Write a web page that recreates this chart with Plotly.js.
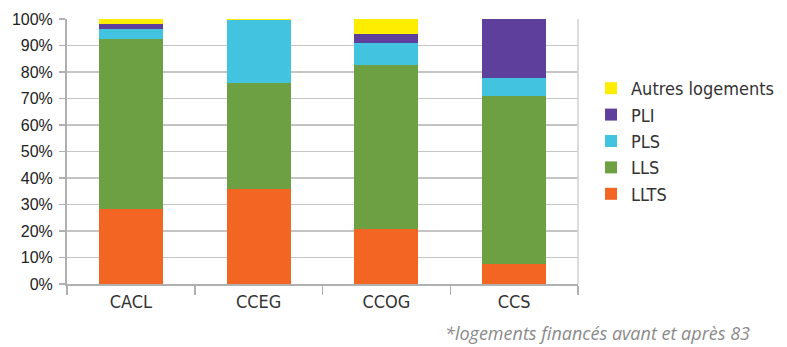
<!DOCTYPE html>
<html><head><meta charset="utf-8">
<script src="https://cdn.plot.ly/plotly-3.0.1.min.js"></script>
<style>html,body{margin:0;padding:0;background:#fff;}#c{width:787px;height:347px;}</style>
</head><body><div id="c"></div>
<script>
const categories = ['CACL', 'CCEG', 'CCOG', 'CCS'];
const seriesNames = ['LLTS', 'LLS', 'PLS', 'PLI', 'Autres logements'];
const LLTS = [28.2, 36.0, 20.6, 7.7];
const LLS = [64.4, 40.0, 61.9, 63.4];
const PLS = [3.8, 23.5, 8.3, 6.8];
const PLI = [1.9, 0.0, 3.7, 22.1];
const AUTRES = [1.7, 0.5, 5.5, 0.0];
const yTicks = [0, 10, 20, 30, 40, 50, 60, 70, 80, 90, 100];
const yTickLabels = yTicks.map(v => v + '%');
const footnote = '*logements financés avant et après 83';

const colors = ['#F26522', '#6DA042', '#42C4E0', '#5E3F9B', '#FFED00'];
const values = [LLTS, LLS, PLS, PLI, AUTRES];
const narrow = '"DejaVu Sans Condensed", "Liberation Sans Narrow", sans-serif';

const traces = seriesNames.map((n, i) => ({
  type: 'bar', name: n, x: categories, y: values[i],
  marker: {color: colors[i], line: {width: 0}},
  hoverinfo: 'skip'
}));

const layout = {
  width: 787, height: 347,
  margin: {l: 67, r: 209, t: 19, b: 63},
  barmode: 'stack', bargap: 0.5,
  paper_bgcolor: '#fff', plot_bgcolor: '#fff',
  showlegend: true,
  legend: {
    xref: 'container', yref: 'container',
    x: 0.751, xanchor: 'left', y: 0.7983, yanchor: 'top',
    traceorder: 'reversed',
    font: {family: narrow, size: 18, color: '#333'},
    itemwidth: 30, tracegroupgap: 0
  },
  xaxis: {
    type: 'category',
    tickson: 'boundaries', ticks: 'outside', ticklen: 9, tickwidth: 1.5, tickcolor: '#b0b0b0',
    showline: true, linecolor: '#b0b0b0', linewidth: 2,
    tickfont: {family: narrow, size: 18, color: '#333'},
    showgrid: false, zeroline: false
  },
  yaxis: {
    range: [0, 100], tickvals: yTicks, ticktext: yTickLabels,
    ticks: 'outside', ticklen: 6, tickwidth: 1.5, tickcolor: '#b0b0b0',
    ticklabelstandoff: 3,
    showline: true, linecolor: '#b0b0b0', linewidth: 2,
    showgrid: true, gridcolor: '#c4c4c4', gridwidth: 1.5,
    zeroline: false,
    tickfont: {family: 'Liberation Sans, Arial, sans-serif', size: 16, color: '#222'}
  },
  shapes: [{type: 'line', xref: 'paper', yref: 'paper', x0: 1, x1: 1, y0: 0, y1: 1,
            line: {color: '#d0d0d0', width: 1.5}}],
  annotations: [{
    text: footnote, xref: 'paper', yref: 'paper',
    x: (751 - 67) / 511, y: -(333 - 284.5) / 265,
    xanchor: 'right', yanchor: 'middle', showarrow: false, borderpad: 0,
    font: {family: 'Open Sans, sans-serif', size: 18, color: '#8a8a8a', style: 'italic'}
  }]
};
Plotly.newPlot('c', traces, layout, {displayModeBar: false, staticPlot: true});
</script></body></html>
